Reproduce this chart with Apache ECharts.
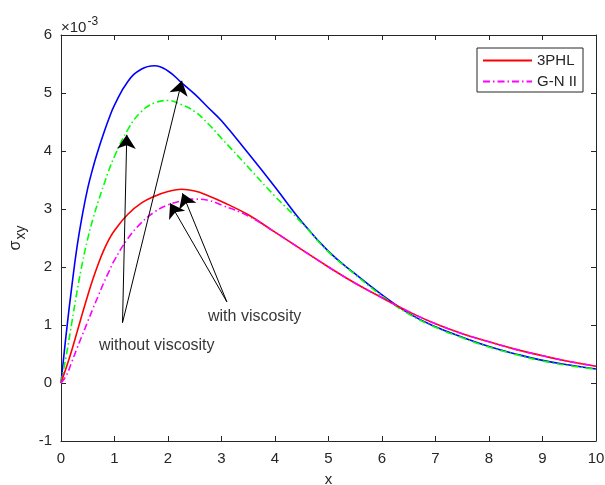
<!DOCTYPE html>
<html>
<head>
<meta charset="utf-8">
<title>sigma_xy vs x</title>
<script src="https://cdn.jsdelivr.net/npm/echarts@6/dist/echarts.min.js"></script>
<style>
  html, body { margin: 0; padding: 0; background: #ffffff; }
  #chart { width: 605px; height: 485px; }
</style>
</head>
<body>
<div id="chart"></div>
<script>
// Sample positions along x shared by all four curves
const xs = [0, 0.1, 0.2, 0.3, 0.4, 0.5, 0.6, 0.7, 0.8, 0.9, 1.0, 1.25, 1.5, 1.75, 2.0, 2.25, 2.5, 2.75, 3.0, 3.5, 4.0, 4.5, 5.0, 5.5, 6.0, 6.5, 7.0, 7.5, 8.0, 8.5, 9.0, 9.5, 10];

// sigma_xy in units of 1e-3
const phl3WithVisc = [0, 0.27, 0.56, 0.88, 1.2, 1.51, 1.8, 2.06, 2.29, 2.48, 2.63, 2.91, 3.1, 3.22, 3.3, 3.34, 3.31, 3.23, 3.13, 2.9, 2.6, 2.3, 2.0, 1.72, 1.47, 1.23, 1.02, 0.85, 0.71, 0.58, 0.47, 0.37, 0.29];
const gn2WithVisc = [0, 0.13, 0.36, 0.6, 0.83, 1.06, 1.29, 1.51, 1.73, 1.93, 2.12, 2.49, 2.76, 2.95, 3.07, 3.14, 3.17, 3.15, 3.07, 2.88, 2.6, 2.3, 2.0, 1.72, 1.47, 1.23, 1.02, 0.85, 0.71, 0.58, 0.47, 0.37, 0.29];
const phl3NoVisc = [0, 0.87, 1.65, 2.35, 2.9, 3.36, 3.72, 4.03, 4.31, 4.57, 4.79, 5.2, 5.41, 5.47, 5.38, 5.18, 4.98, 4.75, 4.52, 3.96, 3.38, 2.78, 2.27, 1.88, 1.52, 1.2, 0.97, 0.79, 0.63, 0.5, 0.39, 0.31, 0.24];
const gn2NoVisc = [0, 0.48, 1.03, 1.58, 2.07, 2.49, 2.84, 3.14, 3.42, 3.68, 3.91, 4.37, 4.68, 4.83, 4.87, 4.8, 4.68, 4.47, 4.22, 3.72, 3.22, 2.76, 2.26, 1.87, 1.5, 1.19, 0.96, 0.78, 0.62, 0.49, 0.38, 0.3, 0.24];

// Axis ticks
const xTicks = [0, 1, 2, 3, 4, 5, 6, 7, 8, 9, 10];
const yTicks = [-1, 0, 1, 2, 3, 4, 5, 6];

// Annotation arrows: [tailX, tailY, headX, headY]
const arrowsNoVisc = [[1.15, 1.04, 1.23, 4.28], [1.15, 1.04, 2.26, 5.21]];
const arrowsVisc = [[3.10, 1.40, 2.04, 3.10], [3.10, 1.40, 2.27, 3.27]];
// Annotation labels: [x, y, text]
const notes = [[1.79, 0.64, 'without viscosity'], [3.62, 1.14, 'with viscosity']];

const FONT = '"Liberation Sans", Arial, Helvetica, sans-serif';
const INK = '#262626';
const dashDot = [7, 3, 1.5, 3];

const pairs = (ys) => xs.map((x, i) => [x, ys[i]]);

function curve(name, ys, color, dashed) {
  return {
    name: name,
    type: 'line',
    data: pairs(ys),
    smooth: 0.45,
    symbol: 'none',
    showSymbol: false,
    silent: true,
    lineStyle: { color: color, width: 1.6, type: dashed ? dashDot : 'solid' },
    itemStyle: { color: color },
    z: 3
  };
}

const arrowData = arrowsNoVisc.concat(arrowsVisc).map(a => [
  { coord: [a[0], a[1]] },
  { coord: [a[2], a[3]] }
]);

const chart = echarts.init(document.getElementById('chart'), null, { renderer: 'canvas' });

const baseX = {
  type: 'value', min: xTicks[0], max: xTicks[xTicks.length - 1], interval: 1,
  axisLine: { show: true, onZero: false, lineStyle: { color: INK, width: 1 } },
  axisTick: { show: true, inside: true, length: 5, lineStyle: { color: INK } },
  splitLine: { show: false }
};
const baseY = {
  type: 'value', min: yTicks[0], max: yTicks[yTicks.length - 1], interval: 1,
  axisLine: { show: true, onZero: false, lineStyle: { color: INK, width: 1 } },
  axisTick: { show: true, inside: true, length: 5, lineStyle: { color: INK } },
  splitLine: { show: false }
};

chart.setOption({
  animation: false,
  backgroundColor: '#ffffff',
  textStyle: { fontFamily: FONT },
  grid: { left: 61, right: 9, top: 35, bottom: 44, containLabel: false, outerBoundsMode: 'none' },
  legend: {
    data: ['3PHL', 'G-N II'],
    orient: 'vertical',
    right: 22,
    top: 48,
    itemWidth: 49,
    itemHeight: 14,
    itemGap: 6,
    padding: [5, 6, 3, 5],
    borderColor: INK,
    borderWidth: 1,
    backgroundColor: '#ffffff',
    itemStyle: { opacity: 0 },
    textStyle: { fontFamily: FONT, fontSize: 15, color: INK, padding: [0, 0, 0, 0] },
    selectedMode: false
  },
  xAxis: [
    Object.assign({}, baseX, {
      position: 'bottom',
      name: 'x',
      nameLocation: 'middle',
      nameGap: 31,
      nameTextStyle: { fontFamily: FONT, fontSize: 15, color: INK },
      axisLabel: { show: true, margin: 10, fontFamily: FONT, fontSize: 15, color: INK }
    }),
    Object.assign({}, baseX, { position: 'top', axisLabel: { show: false } })
  ],
  yAxis: [
    Object.assign({}, baseY, {
      position: 'left',
      name: '{s|σ}{sub|xy}',
      nameLocation: 'middle',
      nameRotate: 90,
      nameGap: 31,
      nameTextStyle: {
        fontFamily: FONT, color: INK,
        rich: {
          s: { fontSize: 16, fontFamily: FONT, color: INK },
          sub: { fontSize: 14, fontFamily: FONT, color: INK, padding: [10, 0, 0, 1] }
        }
      },
      axisLabel: { show: true, margin: 9, fontFamily: FONT, fontSize: 15, color: INK }
    }),
    Object.assign({}, baseY, { position: 'right', axisLabel: { show: false } })
  ],
  graphic: [
    {
      type: 'text',
      left: 61,
      top: 16,
      style: {
        text: '{a|×10}{b|-3}',
        rich: {
          a: { fontSize: 15, fontFamily: FONT, fill: INK, padding: [6, 0, 0, 0] },
          b: { fontSize: 12, fontFamily: FONT, fill: INK, padding: [0, 0, 5, 1] }
        }
      }
    }
  ],
  series: [
    curve('3PHL (no viscosity)', phl3NoVisc, '#0000ff', false),
    curve('G-N II (no viscosity)', gn2NoVisc, '#00ff00', true),
    curve('3PHL', phl3WithVisc, '#ff0000', false),
    curve('G-N II', gn2WithVisc, '#ff00ff', true),
    {
      name: 'annotations',
      type: 'scatter',
      data: notes.map(n => ({ value: [n[0], n[1]], name: n[2] })),
      symbolSize: 0,
      silent: true,
      label: {
        show: true, position: 'inside', formatter: '{b}',
        fontFamily: FONT, fontSize: 16, color: '#000000'
      },
      markLine: {
        silent: true,
        symbol: ['none', 'arrow'],
        symbolSize: 14,
        label: { show: false },
        lineStyle: { color: '#000000', width: 1, type: 'solid' },
        emphasis: { disabled: true },
        data: arrowData
      },
      z: 5
    }
  ]
});
</script>
</body>
</html>
